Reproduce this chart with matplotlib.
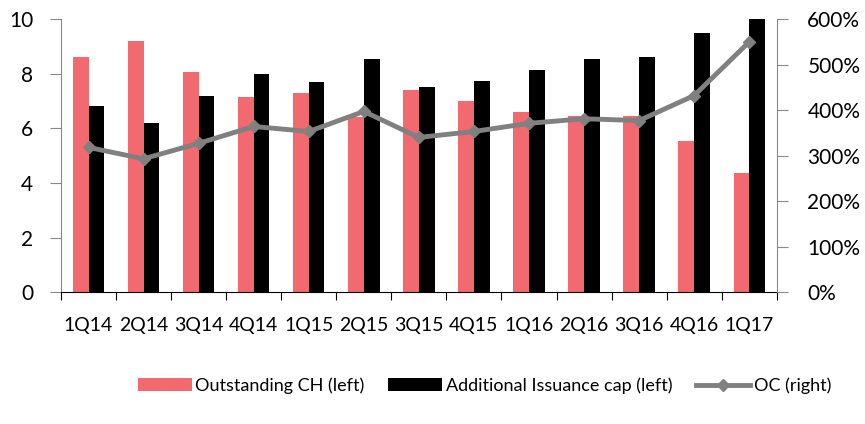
import numpy as np
import matplotlib.pyplot as plt
from matplotlib.ticker import FuncFormatter

plt.rcParams['font.family'] = ['Lato', 'DejaVu Sans']

quarters = ["1Q14", "2Q14", "3Q14", "4Q14", "1Q15", "2Q15", "3Q15",
            "4Q15", "1Q16", "2Q16", "3Q16", "4Q16", "1Q17"]
outstanding = [8.6, 9.2, 8.05, 7.15, 7.3, 6.4, 7.4, 7.0, 6.6, 6.45, 6.45, 5.55, 4.35]
issuance_cap = [6.8, 6.2, 7.2, 8.0, 7.7, 8.55, 7.5, 7.75, 8.15, 8.55, 8.6, 9.5, 10.0]
oc_pct = [318, 293, 327, 364, 353, 397, 340, 353, 371, 381, 377, 432, 550]

x = np.arange(len(quarters))
w = 0.285

fig = plt.figure(figsize=(8.65, 4.24), dpi=100)
ax = fig.add_axes([0.0705, 0.311, 0.8275, 0.644])
b1 = ax.bar(x - w / 2, outstanding, w, color="#F26970", label="Outstanding CH (left)")
b2 = ax.bar(x + w / 2, issuance_cap, w, color="black", label="Additional Issuance cap (left)")
ax.set_xlim(-0.5, len(quarters) - 0.5)
ax.set_ylim(0, 10)
ax.set_yticks([0, 2, 4, 6, 8, 10])

ax2 = ax.twinx()
ln, = ax2.plot(x, oc_pct, color="#808080", lw=3.5, marker="D", ms=6, label="OC (right)")
ax2.set_ylim(0, 600)
ax2.set_yticks(range(0, 601, 100))
ax2.yaxis.set_major_formatter(FuncFormatter(lambda v, p: f"{int(v)}%"))

ax.set_xticks(np.arange(-0.5, len(quarters), 1.0))
ax.set_xticklabels([])
ax.set_xticks(x, minor=True)
ax.set_xticklabels(quarters, minor=True, fontsize=14)
ax.tick_params(axis="x", which="major", length=6, direction="out", color="black")
ax.tick_params(axis="x", which="minor", length=0, pad=18)
ax.tick_params(axis="y", length=8, color="#888888", labelsize=15, pad=12)
ax2.tick_params(axis="y", length=8, color="#888888", labelsize=15, pad=14)

for a in (ax, ax2):
    a.spines["top"].set_visible(False)
    a.spines["left"].set_color("#888888")
    a.spines["right"].set_color("#888888")
    a.spines["bottom"].set_color("black")
ax.spines["right"].set_visible(False)
ax2.spines["left"].set_visible(False)
ax2.spines["bottom"].set_visible(False)

fig.legend(handles=[b1, b2, ln], loc="center", bbox_to_anchor=(0.56, 0.09),
           ncol=3, frameon=False, fontsize=13, handlelength=3.0,
           handletextpad=0.2, columnspacing=1.3)

fig.savefig("out.png", dpi=100)
